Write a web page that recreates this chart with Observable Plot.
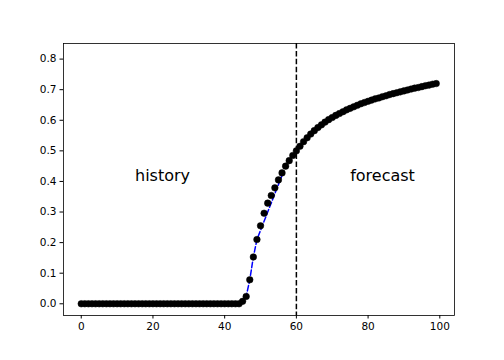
<!DOCTYPE html>
<html>
<head>
<meta charset="utf-8">
<script src="https://cdn.jsdelivr.net/npm/d3@7"></script>
<script src="https://cdn.jsdelivr.net/npm/@observablehq/plot@0.6"></script>
<style>
  html, body { margin: 0; padding: 0; background: #fff; }
  #chart svg { display: block; }
</style>
</head>
<body>
<div id="chart"></div>
<script>
// Model values (black dots), x = 0..99
const dotX = d3.range(0, 100);
const dotY = [
  0,0,0,0,0,0,0,0,0,0,
  0,0,0,0,0,0,0,0,0,0,
  0,0,0,0,0,0,0,0,0,0,
  0,0,0,0,0,0,0,0,0,0,
  0,0,0,0,0,0.008,0.024,0.0785,0.153,0.21,
  0.255,0.296,0.329,0.354,0.379,0.405,0.428,0.45,0.468,0.485,
  0.50,0.515,0.53,0.543,0.555,0.566,0.576,0.585,0.594,0.602,
  0.609,0.616,0.622,0.628,0.634,0.639,0.644,0.649,0.654,0.658,
  0.662,0.666,0.670,0.673,0.677,0.680,0.684,0.687,0.690,0.693,
  0.696,0.699,0.702,0.705,0.707,0.710,0.713,0.715,0.718,0.720
];
// History series (blue dashed line)
const histX = [
  0,1,2,3,4,5,6,7,8,9,10,11,12,13,14,15,16,17,18,19,20,21,22,23,24,
  25,26,27,28,29,30,31,32,33,34,35,36,37,38,39,40,41,42,43,44,45,46,47,48,49,56
];
const histY = [
  0,0,0,0,0,0,0,0,0,0,0,0,0,0,0,0,0,0,0,0,0,0,0,0,0,
  0,0,0,0,0,0,0,0,0,0,0,0,0,0,0,0,0,0,0,0,0.008,0.024,0.0785,0.153,0.21,0.42
];
const splitX = [60];
const xTicks = [0, 20, 40, 60, 80, 100];
const yTicks = [0, 0.1, 0.2, 0.3, 0.4, 0.5, 0.6, 0.7, 0.8];
const labels = ["history", "forecast"];
const labelX = [15, 75];
const labelY = [0.4, 0.4];

const dots = dotX.map((x, i) => ({x, y: dotY[i]}));
const hist = histX.map((x, i) => ({x, y: histY[i]}));
const notes = labels.map((t, i) => ({t, x: labelX[i], y: labelY[i]}));

const chart = Plot.plot({
  width: 504,
  height: 360,
  marginLeft: 63,
  marginRight: 50,
  marginTop: 43,
  marginBottom: 45,
  style: {fontFamily: "DejaVu Sans", fontSize: "10.5px", background: "#fff", color: "#000"},
  x: {domain: [-4.95, 104.1]},
  y: {domain: [-0.0383, 0.851]},
  marks: [
    Plot.line(hist, {x: "x", y: "y", stroke: "#0000ff", strokeWidth: 1.5, strokeDasharray: "5.5,2.4"}),
    Plot.dot(dots, {x: "x", y: "y", r: 3.3, fill: "#000", stroke: "#000", strokeWidth: 0.5}),
    Plot.ruleX(splitX, {stroke: "#000", strokeWidth: 1.5, strokeDasharray: "5.5,2.4"}),
    Plot.text(notes, {x: "x", y: "y", text: "t", textAnchor: "start", lineAnchor: "middle", fontSize: 16, dy: -6, fill: "#000"}),
    Plot.frame({stroke: "#000", strokeWidth: 0.8}),
    Plot.axisX({ticks: xTicks, tickFormat: d => String(d), tickSize: 3.5, tickPadding: 3.5, label: null}),
    Plot.axisY({ticks: yTicks, tickFormat: d => d.toFixed(1), tickSize: 3.5, tickPadding: 3.5, label: null})
  ]
});
document.getElementById("chart").appendChild(chart);
</script>
</body>
</html>
